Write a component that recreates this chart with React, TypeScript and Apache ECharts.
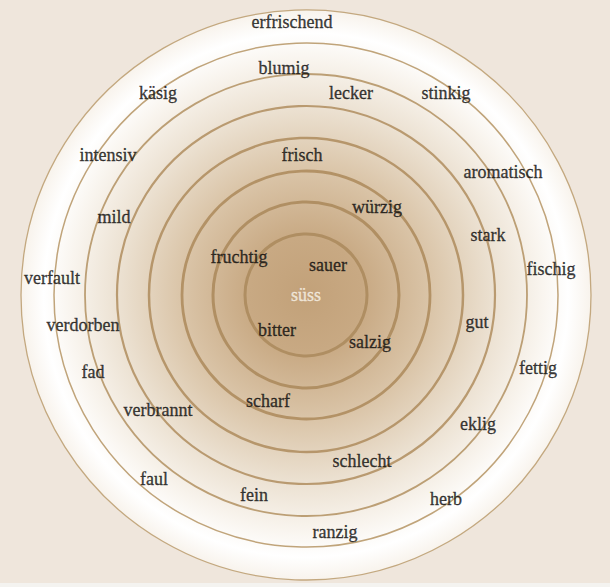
import React, { useEffect, useRef } from "react";
import * as echarts from "echarts";

// Words of the taste map with their offsets from the centre (x right, y up)
const words: string[] = [
  "erfrischend", "blumig", "käsig", "lecker", "stinkig", "intensiv", "frisch",
  "aromatisch", "würzig", "mild", "stark", "fruchtig", "sauer", "fischig",
  "verfault", "süss", "verdorben", "bitter", "gut", "salzig", "fad", "fettig",
  "scharf", "verbrannt", "eklig", "schlecht", "faul", "fein", "herb", "ranzig",
];
const wordX: number[] = [
  -14, -22, -148, 45, 140, -198, -4,
  197, 71, -192, 182, -67, 22, 245,
  -254, 0, -223, -29, 171, 64, -213, 232,
  -38, -148, 172, 56, -152, -52, 140, 29,
];
const wordY: number[] = [
  273, 227, 202, 202, 202, 140, 140,
  123, 88, 78, 60, 38, 30, 26,
  17, 0, -30, -35, -27, -47, -77, -73,
  -106, -115, -129, -166, -184, -200, -204, -237,
];

// Concentric rings (radius in the same units)
const ringRadii: number[] = [61, 93, 124, 157, 189, 221, 252, 285];
const ringWidths: number[] = [3, 3, 2.8, 2.5, 2.2, 1.8, 1.5, 1.3];
const ringColors: string[] = ["#af8e62", "#b08f63", "#b39266", "#b6966b", "#b99a70", "#bc9f75", "#c0a47a", "#c3a87f"];

export default function App() {
  const ref = useRef<HTMLDivElement>(null);
  useEffect(() => {
    if (!ref.current) return;
    const chart = echarts.init(ref.current, undefined, { renderer: "svg" });
    const outerR = ringRadii[ringRadii.length - 1];

    const option: any = {
      animation: false,
      backgroundColor: "#efe6dc",
      grid: { left: 0, right: 0, top: 0, bottom: 0 },
      xAxis: { type: "value", min: -306, max: 304, show: false },
      yAxis: { type: "value", min: -292, max: 295, show: false },
      graphic: [
        {
          type: "rect",
          left: 0,
          bottom: 0,
          shape: { width: 610, height: 4 },
          style: { fill: "#f4f3f0" },
          silent: true,
        },
      ],
      series: [
        {
          type: "custom",
          silent: true,
          z: 1,
          data: [[0, 0, outerR]],
          renderItem: (params: any, api: any) => {
            const c = api.coord([api.value(0), api.value(1)]);
            const r = api.size([api.value(2), 0])[0];
            return {
              type: "circle",
              shape: { cx: c[0], cy: c[1], r },
              style: {
                fill: new echarts.graphic.RadialGradient(0.5, 0.5, 0.5, [
                  { offset: 0, color: "#c2a179" },
                  { offset: 0.2, color: "#c8a983" },
                  { offset: 0.45, color: "#dbc6aa" },
                  { offset: 0.65, color: "#ebe0d0" },
                  { offset: 0.83, color: "#f9f5ef" },
                  { offset: 0.92, color: "#ffffff" },
                  { offset: 1, color: "#f8f3ec" },
                ]),
              },
            };
          },
        },
        {
          type: "custom",
          silent: true,
          z: 2,
          data: ringRadii.map((r, i) => [0, 0, r, i]),
          renderItem: (params: any, api: any) => {
            const c = api.coord([api.value(0), api.value(1)]);
            const r = api.size([api.value(2), 0])[0];
            const i = api.value(3);
            return {
              type: "circle",
              shape: { cx: c[0], cy: c[1], r },
              style: {
                fill: "none",
                stroke: ringColors[i],
                lineWidth: ringWidths[i],
              },
            };
          },
        },
        {
          type: "scatter",
          silent: true,
          z: 3,
          symbolSize: 1,
          itemStyle: { color: "rgba(0,0,0,0)" },
          data: words.map((w, i) => ({
            name: w,
            value: [wordX[i], wordY[i]],
            label:
              w === "süss"
                ? { color: "#f7f1e6", textBorderColor: "#f7f1e6" }
                : undefined,
          })),
          label: {
            show: true,
            position: "inside",
            formatter: "{b}",
            fontFamily: "'Liberation Serif', 'Times New Roman', serif",
            fontSize: 18,
            color: "#0d0c0b",
            textBorderWidth: 0.35,
            textBorderColor: "#0d0c0b",
            align: "center",
            verticalAlign: "middle",
          },
        },
      ],
    };
    chart.setOption(option);
    return () => chart.dispose();
  }, []);

  return (
    <div
      ref={ref}
      style={{ position: "fixed", left: 0, top: 0, width: 610, height: 587 }}
    />
  );
}
